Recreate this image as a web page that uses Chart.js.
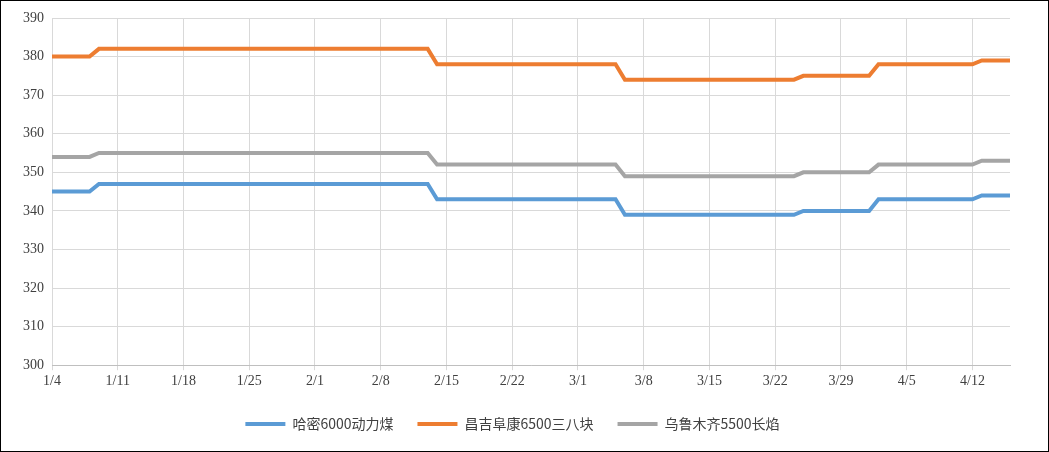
<!DOCTYPE html>
<html>
<head>
<meta charset="utf-8">
<script src="https://cdn.jsdelivr.net/npm/chart.js@4"></script>
<style>
  body { margin: 0; background: #fff; }
  #box { width: 1047px; height: 450px; border: 1px solid #000; position: relative; }
</style>
</head>
<body>
<div id="box"><canvas id="c"></canvas></div>
<script>
// categories: daily from 1/4 to 4/16
var labels = [];
for (var d = new Date(2023, 0, 4); d <= new Date(2023, 3, 16); d.setDate(d.getDate() + 1)) {
    labels.push((d.getMonth() + 1) + '/' + d.getDate());
}

var seriesNames = ['哈密6000动力煤', '昌吉阜康6500三八块', '乌鲁木齐5500长焰'];

var hami = [
    345,345,345,345,345,
    347,347,347,347,347,347,347,347,347,347,347,347,
    347,347,347,347,347,347,347,347,347,347,347,347,
    347,347,347,347,347,347,347,347,347,347,347,347,
    343,343,343,343,343,343,343,343,343,343,
    343,343,343,343,343,343,343,343,343,343,
    339,339,339,339,339,339,339,339,339,339,
    339,339,339,339,339,339,339,339,339,
    340,340,340,340,340,340,340,340,
    343,343,343,343,343,343,343,343,343,343,343,
    344,344,344,344
];
var changji = [
    380,380,380,380,380,
    382,382,382,382,382,382,382,382,382,382,382,382,
    382,382,382,382,382,382,382,382,382,382,382,382,
    382,382,382,382,382,382,382,382,382,382,382,382,
    378,378,378,378,378,378,378,378,378,378,
    378,378,378,378,378,378,378,378,378,378,
    374,374,374,374,374,374,374,374,374,374,
    374,374,374,374,374,374,374,374,374,
    375,375,375,375,375,375,375,375,
    378,378,378,378,378,378,378,378,378,378,378,
    379,379,379,379
];
var wulu = [
    354,354,354,354,354,
    355,355,355,355,355,355,355,355,355,355,355,355,
    355,355,355,355,355,355,355,355,355,355,355,355,
    355,355,355,355,355,355,355,355,355,355,355,355,
    352,352,352,352,352,352,352,352,352,352,
    352,352,352,352,352,352,352,352,352,352,
    349,349,349,349,349,349,349,349,349,349,
    349,349,349,349,349,349,349,349,349,
    350,350,350,350,350,350,350,350,
    352,352,352,352,352,352,352,352,352,352,352,
    353,353,353,353
];

function ds(label, data, color) {
    return {
        label: label,
        data: data,
        borderColor: color,
        backgroundColor: color,
        borderWidth: 4,
        pointRadius: 0,
        pointStyle: 'line',
        tension: 0
    };
}

var font = { family: 'Liberation Serif', size: 14 };
var grid = '#d9d9d9';

new Chart(document.getElementById('c'), {
    type: 'line',
    data: {
        labels: labels,
        datasets: [
            ds(seriesNames[0], hami, '#5b9bd5'),
            ds(seriesNames[1], changji, '#ed7d31'),
            ds(seriesNames[2], wulu, '#a5a5a5')
        ]
    },
    options: {
        responsive: true,
        maintainAspectRatio: false,
        animation: false,
        layout: { padding: { left: 14, right: 38, top: 17, bottom: 10 } },
        plugins: {
            legend: {
                position: 'bottom',
                labels: {
                    usePointStyle: true,
                    pointStyleWidth: 40,
                    padding: 24,
                    color: '#404040',
                    font: { family: 'Noto Sans CJK SC', size: 14 }
                }
            },
            tooltip: { enabled: false }
        },
        scales: {
            x: {
                grid: { color: grid, drawTicks: true, tickLength: 5 },
                border: { color: '#bfbfbf' },
                ticks: {
                    color: '#404040', font: font, maxRotation: 0, autoSkip: false,
                    callback: function (v, i) { return i % 7 === 0 ? labels[i] : null; }
                }
            },
            y: {
                min: 300, max: 390,
                grid: { color: grid, drawTicks: false },
                border: { display: false },
                ticks: { stepSize: 10, color: '#404040', font: font, padding: 8 }
            }
        }
    }
});
</script>
</body>
</html>
